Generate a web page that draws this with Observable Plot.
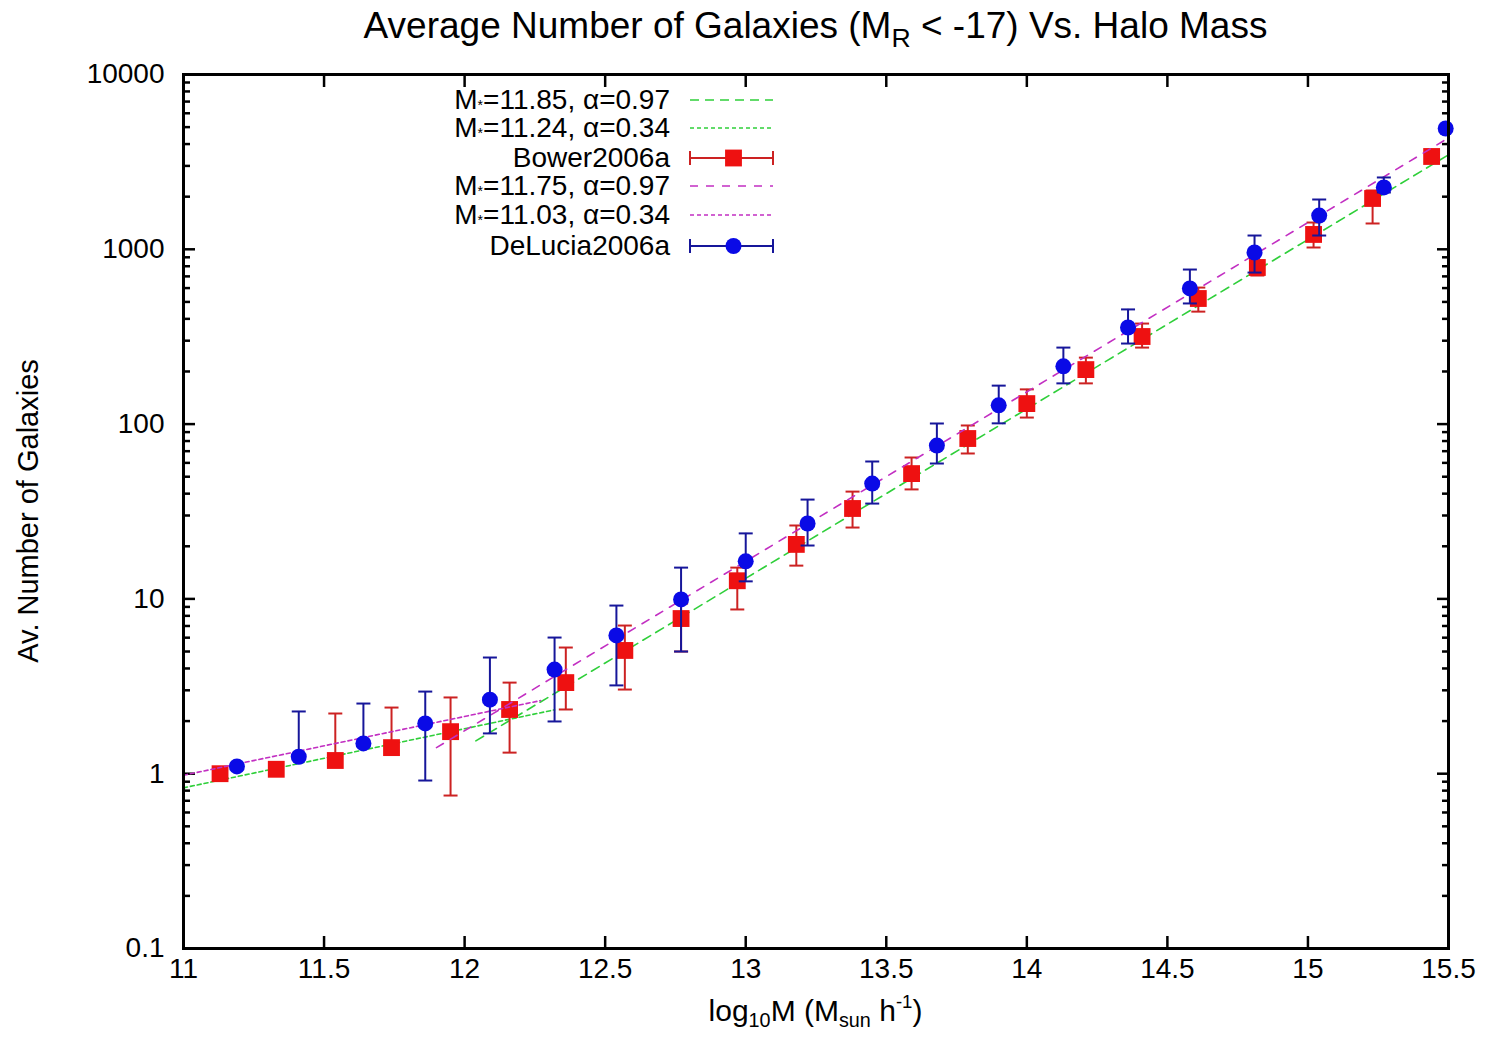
<!DOCTYPE html>
<html>
<head>
<meta charset="utf-8">
<script src="https://cdn.jsdelivr.net/npm/d3@7"></script>
<script src="https://cdn.jsdelivr.net/npm/@observablehq/plot@0.6"></script>
<style>
  body { margin: 0; background: #fff; font-family: "Liberation Sans", Arial, sans-serif; color: #000; }
  #wrap { position: relative; width: 1492px; height: 1037px; overflow: hidden; }
  .abs { position: absolute; white-space: nowrap; }
  #title { left: 183px; width: 1265px; top: 0; height: 52px; line-height: 52px; text-align: center; font-size: 37px; }
  #title sub { font-size: 72%; vertical-align: -0.35em; line-height: 0; }
  #xlabel { left: 183px; width: 1265px; top: 994px; height: 34px; line-height: 34px; text-align: center; font-size: 30px; }
  #xlabel sub { font-size: 66%; vertical-align: -0.3em; line-height: 0; }
  #xlabel sup { font-size: 62%; vertical-align: 0.7em; line-height: 0; }
  #ylabel { left: 28px; top: 511px; font-size: 29px; transform: translate(-50%, -50%) rotate(-90deg); }
  .leg { font-size: 28px; text-align: right; line-height: 26px; height: 26px; }
  .leg sub { font-size: 50%; vertical-align: -0.1em; line-height: 0; }
  #plot { left: 0; top: 55px; }
</style>
</head>
<body>
<div id="wrap">
  <div id="title" class="abs">Average Number of Galaxies (M<sub>R</sub> &lt; -17) Vs. Halo Mass</div>
  <div id="plot" class="abs"></div>
  <div id="ylabel" class="abs">Av. Number of Galaxies</div>
  <div id="xlabel" class="abs">log<sub>10</sub>M (M<sub>sun</sub> h<sup>-1</sup>)</div>
</div>
<script>
// ---- Bower2006a (red squares) ----
const bowerX  = [11.13, 11.33, 11.54, 11.74, 11.95, 12.16, 12.36, 12.57, 12.77, 12.97, 13.18, 13.38, 13.59, 13.79, 14.00, 14.21, 14.41, 14.61, 14.82, 15.02, 15.23, 15.44];
const bowerN  = [1.00, 1.06, 1.19, 1.41, 1.74, 2.33, 3.32, 5.07, 7.72, 12.7, 20.5, 32.9, 52.1, 82.7, 131, 205, 317, 523, 787, 1216, 1953, 3396];
const bowerLo = [1.00, 1.06, 1.19, 1.41, 0.75, 1.32, 2.33, 3.03, 5.0, 8.7, 15.5, 25.6, 42.3, 67.9, 109, 171, 274, 440, 708, 1024, 1405, 3396];
const bowerHi = [1.00, 1.06, 2.21, 2.39, 2.73, 3.32, 5.27, 7.04, 9.4, 15.1, 26.3, 41.1, 64.4, 98.2, 158, 240, 376, 604, 840, 1423, 2170, 3396];

// ---- DeLucia2006a (blue circles) ----
const deluciaX  = [11.19, 11.41, 11.64, 11.86, 12.09, 12.32, 12.54, 12.77, 13.00, 13.22, 13.45, 13.68, 13.90, 14.13, 14.36, 14.58, 14.81, 15.04, 15.27, 15.49];
const deluciaN  = [1.10, 1.25, 1.49, 1.94, 2.65, 3.94, 6.18, 9.93, 16.4, 27.0, 45.7, 75.4, 128, 214, 357, 597, 959, 1560, 2259, 4910];
const deluciaLo = [1.10, 1.25, 1.49, 0.914, 1.70, 1.99, 3.20, 5.0, 12.6, 20.2, 35.1, 59.5, 101, 171, 289, 490, 736, 1199, 2113, 4910];
const deluciaHi = [1.10, 2.27, 2.52, 2.95, 4.62, 6.01, 9.16, 15.1, 23.7, 37.0, 61.1, 100.8, 166, 274, 453, 766, 1199, 1927, 2576, 4910];

// ---- model lines (end points) ----
const greenLongX = [12.04, 15.5],  greenLongN = [1.54, 3470];   // M*=11.85, a=0.97
const greenShortX = [11.0, 12.32], greenShortN = [0.83, 2.32];  // M*=11.24, a=0.34
const magLongX = [11.90, 15.5],    magLongN = [1.41, 4340];     // M*=11.75, a=0.97
const magShortX = [11.0, 12.27],   magShortN = [0.98, 2.62];    // M*=11.03, a=0.34

// ---- ticks ----
const xTicks = [11, 11.5, 12, 12.5, 13, 13.5, 14, 14.5, 15, 15.5];
const xTickLabels = ["11", "11.5", "12", "12.5", "13", "13.5", "14", "14.5", "15", "15.5"];
const yTicks = [0.1, 1, 10, 100, 1000, 10000];
const yTickLabels = ["0.1", "1", "10", "100", "1000", "10000"];
const yMinor = [-1, 0, 1, 2, 3].flatMap(e => [2,3,4,5,6,7,8,9].map(k => k * Math.pow(10, e)));

// ---- legend ----
const legendLabels = ["M<sub>*</sub>=11.85, α=0.97", "M<sub>*</sub>=11.24, α=0.34", "Bower2006a",
                      "M<sub>*</sub>=11.75, α=0.97", "M<sub>*</sub>=11.03, α=0.34", "DeLucia2006a"];

const GREEN = "#2fcf3a", MAG = "#c22fc2", RED = "#ee1111", REDBAR = "#cc2222", BLUE = "#0a0ae6", BLUEBAR = "#16169a";
const styles = [
  {type: "line", color: GREEN, dash: "9,6"},
  {type: "line", color: GREEN, dash: "4,3"},
  {type: "pt", color: RED, bar: REDBAR, symbol: "square"},
  {type: "line", color: MAG, dash: "8,8"},
  {type: "line", color: MAG, dash: "4,3"},
  {type: "pt", color: BLUE, bar: BLUEBAR, symbol: "circle"}
];

const toRows = (xs, ns) => xs.map((x, i) => ({x, n: ns[i]}));
const bower = bowerX.map((x, i) => ({x, n: bowerN[i], lo: bowerLo[i], hi: bowerHi[i]}));
const delucia = deluciaX.map((x, i) => ({x, n: deluciaN[i], lo: deluciaLo[i], hi: deluciaHi[i]}));

const capSymbol = {draw(ctx, size) { const r = Math.sqrt(size / Math.PI); ctx.moveTo(-r, 0); ctx.lineTo(r, 0); }};

function errMarks(data, barColor, color, symbol, r) {
  return [
    Plot.ruleX(data, {x: "x", y1: "lo", y2: "hi", stroke: barColor, strokeWidth: 2}),
    Plot.dot(data, {x: "x", y: "lo", symbol: capSymbol, r: 7, stroke: barColor, strokeWidth: 2, fill: "none"}),
    Plot.dot(data, {x: "x", y: "hi", symbol: capSymbol, r: 7, stroke: barColor, strokeWidth: 2, fill: "none"}),
    Plot.dot(data, {x: "x", y: "n", symbol, r, fill: color, stroke: "none"})
  ];
}

const xFmt = d => xTickLabels[xTicks.indexOf(d)] ?? "";
const yFmt = d => { const k = yTicks.findIndex(t => Math.abs(t - d) / t < 1e-6); return k >= 0 ? yTickLabels[k] : ""; };

const plot = Plot.plot({
  width: 1492, height: 945,
  marginLeft: 183, marginRight: 44, marginTop: 19, marginBottom: 52,
  x: {domain: [11, 15.5]},
  y: {type: "log", domain: [0.1, 10000]},
  style: {fontFamily: "'Liberation Sans', Arial, sans-serif", fontSize: "28px", color: "#000", background: "#fff", overflow: "visible"},
  marks: [
    // labels
    Plot.axisX({ticks: xTicks, tickSize: 0, tickPadding: 10, tickFormat: xFmt, label: null, fontSize: 28}),
    Plot.axisY({ticks: yTicks, anchor: "left", tickSize: 0, tickPadding: 19, tickFormat: yFmt, label: null, fontSize: 28}),
    // inward ticks (mirrored)
    Plot.axisX({ticks: xTicks, anchor: "bottom", tickSize: -12, strokeWidth: 2.5, tickFormat: () => "", label: null}),
    Plot.axisX({ticks: xTicks, anchor: "top", tickSize: -12, strokeWidth: 2.5, tickFormat: () => "", label: null}),
    Plot.axisY({ticks: yTicks, anchor: "left", tickSize: -12, strokeWidth: 2.5, tickFormat: () => "", label: null}),
    Plot.axisY({ticks: yTicks, anchor: "right", tickSize: -12, strokeWidth: 2.5, tickFormat: () => "", label: null}),
    Plot.axisY({ticks: yMinor, anchor: "left", tickSize: -7, strokeWidth: 2.5, tickFormat: () => "", label: null}),
    Plot.axisY({ticks: yMinor, anchor: "right", tickSize: -7, strokeWidth: 2.5, tickFormat: () => "", label: null}),
    // green models
    Plot.line(toRows(greenLongX, greenLongN), {x: "x", y: "n", stroke: GREEN, strokeWidth: 1.6, strokeDasharray: "9,6"}),
    Plot.line(toRows(greenShortX, greenShortN), {x: "x", y: "n", stroke: GREEN, strokeWidth: 1.6, strokeDasharray: "4,3"}),
    // Bower
    ...errMarks(bower, REDBAR, RED, "square", 9.5),
    // magenta models
    Plot.line(toRows(magLongX, magLongN), {x: "x", y: "n", stroke: MAG, strokeWidth: 1.6, strokeDasharray: "8,8"}),
    Plot.line(toRows(magShortX, magShortN), {x: "x", y: "n", stroke: MAG, strokeWidth: 1.6, strokeDasharray: "4,3"}),
    // DeLucia
    ...errMarks(delucia, BLUEBAR, BLUE, "circle", 8),
    Plot.frame({stroke: "#000", strokeWidth: 3})
  ]
});
document.getElementById("plot").appendChild(plot);

// legend overlay (page coordinates)
const wrap = d3.select("#wrap");
const rowY = [100, 128, 158, 186, 215, 246];
const lx1 = 690, lx2 = 773;
const lsvg = wrap.append("svg").attr("class", "abs").style("left", "0px").style("top", "0px")
  .attr("width", 1492).attr("height", 300).style("pointer-events", "none");
legendLabels.forEach((lab, i) => {
  wrap.append("div").attr("class", "abs leg")
    .style("right", (1492 - 670) + "px").style("top", (rowY[i] - 13) + "px").html(lab);
  const s = styles[i], y = rowY[i];
  if (s.type === "line") {
    lsvg.append("line").attr("x1", lx1).attr("x2", lx2).attr("y1", y).attr("y2", y)
      .attr("stroke", s.color).attr("stroke-width", 1.6).attr("stroke-dasharray", s.dash);
  } else {
    const g = lsvg.append("g").attr("stroke", s.bar).attr("stroke-width", 2);
    g.append("line").attr("x1", lx1).attr("x2", lx2).attr("y1", y).attr("y2", y);
    g.append("line").attr("x1", lx1).attr("x2", lx1).attr("y1", y - 7).attr("y2", y + 7);
    g.append("line").attr("x1", lx2).attr("x2", lx2).attr("y1", y - 7).attr("y2", y + 7);
    const sym = d3.symbol().type(s.symbol === "square" ? d3.symbolSquare : d3.symbolCircle)
      .size(s.symbol === "square" ? 9.5 * 9.5 * Math.PI : 8 * 8 * Math.PI);
    lsvg.append("path").attr("d", sym()).attr("transform", `translate(${(lx1 + lx2) / 2 + 2},${y})`).attr("fill", s.color);
  }
});
</script>
</body>
</html>
